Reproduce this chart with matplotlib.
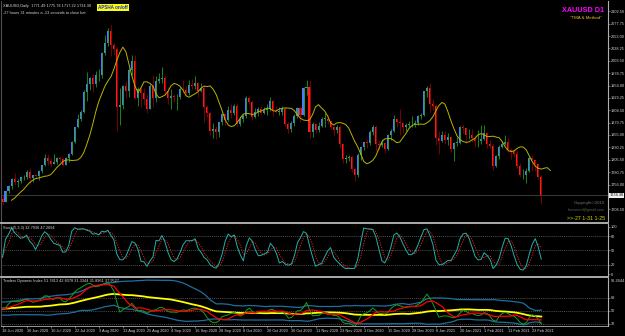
import numpy as np
import pandas as pd
import matplotlib
matplotlib.use("Agg")
import matplotlib.pyplot as plt
import matplotlib.transforms as mtrans
from matplotlib.lines import Line2D

plt.rcParams["font.family"] = ["Liberation Sans", "DejaVu Sans"]

# ---------------- data (XAUUSD daily, 18 Jun 2020 - 26 Feb 2021) ----------------
opens = [1727,1722,1743,1754,1768,1762,1764,1771,1772,
         1781,1769,1775,1774,1784,1795,1810,1803,1798,1802,1810,1807,1796,1810,1818,1842,1871,1887,1902,1942,1958,1970,1958,
         1975,1976,2019,2039,2063,2035,2028,1911,1915,1954,1944,1985,2003,1930,1947,1940,1928,1907,1954,1929,1964,
         1967,1970,1944,1930,1934,1931,1931,1947,1946,1940,1956,1954,1960,1944,1950,1912,1900,1863,1868,1861,1882,1898,
         1886,1905,1900,1913,1877,1887,1894,1930,1922,1891,1902,1908,1900,1905,1907,1924,1904,1902,1902,1907,1878,1868,
         1879,1894,1909,1896,1949,1951,1862,1877,1866,1873,1888,1888,1883,1872,1866,1871,1837,1807,1810,1811,1788,
         1776,1815,1831,1841,1839,1862,1871,1838,1836,1839,1828,1855,1864,1887,1881,1880,1871,1875,1877,1877,1880,1893,
         1895,1943,1950,1918,1913,1849,1844,1856,1845,1851,1828,1840,1840,1871,1870,1855,1856,1850,1843,1843,
         1847,1860,1837,1834,1794,1814,1831,1838,1842,1825,1824,1818,1794,1775,1775,1784,1809,1805,1797,1771.49]
highs = [1733,1744,1756,1769,1779,1768,1772,1775,1785,
         1789,1776,1777,1785,1796,1818,1818,1809,1817,1811,1813,1809,1811,1820,1843,1872,1898,1905,1945,1981,1972,1977,1984,
         1987,2021,2055,2070,2075,2040,2032,1950,1956,1963,1989,2015,2016,1951,1951,1950,1938,1958,1975,1974,1979,
         1992,1973,1951,1948,1938,1937,1952,1965,1953,1965,1967,1973,1962,1960,1953,1916,1903,1880,1874,1882,1900,1900,
         1913,1918,1917,1920,1894,1898,1933,1933,1925,1909,1912,1913,1912,1917,1931,1926,1914,1911,1913,1911,1881,1884,
         1898,1911,1912,1952,1966,1966,1881,1880,1881,1892,1900,1895,1883,1874,1875,1875,1840,1815,1816,1814,1790,
         1819,1832,1842,1848,1865,1875,1875,1846,1848,1842,1857,1867,1896,1890,1907,1882,1879,1884,1893,1886,1896,1900,
         1944,1953,1959,1927,1917,1864,1863,1863,1860,1854,1842,1852,1874,1876,1870,1867,1867,1856,1866,1875,
         1875,1862,1845,1837,1816,1835,1843,1855,1849,1829,1827,1826,1799,1788,1789,1813,1815,1806,1798,1775.78]
lows = [1716,1721,1739,1748,1756,1752,1759,1766,1767,
        1757,1762,1770,1765,1779,1793,1796,1793,1797,1797,1801,1793,1795,1801,1815,1840,1870,1883,1900,1924,1946,1942,1952,
        1963,1969,2015,2033,2014,2016,1863,1875,1908,1930,1932,1976,1928,1913,1911,1916,1900,1907,1911,1921,1960,
        1960,1936,1917,1907,1922,1906,1927,1940,1936,1936,1947,1948,1932,1941,1882,1891,1855,1849,1848,1851,1876,1876,
        1883,1889,1895,1873,1873,1882,1890,1918,1885,1889,1894,1895,1897,1896,1904,1894,1900,1895,1896,1873,1859,1861,
        1873,1889,1882,1894,1936,1849,1851,1859,1862,1871,1872,1877,1867,1856,1860,1829,1800,1800,1804,1781,1764,
        1772,1806,1825,1829,1835,1855,1823,1826,1832,1820,1826,1846,1862,1871,1855,1860,1864,1872,1872,1871,1876,1887,
        1893,1931,1901,1906,1836,1817,1841,1838,1835,1822,1803,1833,1838,1859,1837,1848,1842,1832,1831,1837,
        1845,1830,1829,1785,1791,1808,1829,1835,1822,1808,1812,1789,1771,1767,1760,1782,1784,1783,1767,1717.22]
closes = [1722,1743,1754,1768,1762,1764,1771,1772,1781,
          1769,1775,1774,1784,1795,1810,1803,1798,1802,1810,1807,1796,1810,1818,1842,1871,1887,1902,1942,1958,1970,1958,1975,
          1976,2019,2039,2063,2035,2028,1911,1915,1954,1944,1985,2003,1930,1947,1940,1928,1907,1954,1929,1964,1967,
          1970,1944,1930,1934,1931,1931,1947,1946,1940,1956,1954,1960,1944,1950,1912,1900,1863,1868,1861,1882,1898,1886,
          1905,1900,1913,1877,1887,1894,1930,1922,1891,1902,1908,1900,1905,1907,1924,1904,1902,1902,1907,1878,1868,1879,
          1894,1909,1896,1949,1951,1862,1877,1866,1873,1888,1888,1883,1872,1866,1871,1837,1807,1810,1811,1788,1776,
          1815,1831,1841,1839,1862,1871,1838,1836,1839,1828,1855,1864,1887,1881,1880,1871,1875,1877,1877,1880,1893,1895,
          1943,1950,1918,1913,1849,1844,1856,1845,1851,1828,1840,1840,1871,1870,1855,1856,1850,1843,1843,1847,
          1860,1837,1834,1794,1814,1831,1838,1842,1825,1824,1818,1794,1775,1775,1784,1809,1805,1797,1771,1734.38]
# closes before the visible window (indicator warm-up only)
warmup_closes = [1683,1694,1686,1714,1730,1727,1713,1707,1713,1686,1700,1702,1705,1685,1725,1702,1697,1701,
                 1716,1730,1743,1732,1745,1748,1725,1735,1729,1709,1709,1719,1730,1740,1727,1699,1714,1685,
                 1698,1715,1737,1728,1730,1726,1726,1727]
date_labels = ["18 Jun 2020","30 Jun 2020","10 Jul 2020","22 Jul 2020","3 Aug 2020","13 Aug 2020",
               "25 Aug 2020","4 Sep 2020","16 Sep 2020","28 Sep 2020","8 Oct 2020","20 Oct 2020",
               "30 Oct 2020","11 Nov 2020","23 Nov 2020","3 Dec 2020","15 Dec 2020","28 Dec 2020",
               "8 Jan 2021","20 Jan 2021","1 Feb 2021","11 Feb 2021","23 Feb 2021"]
price_ticks = [1706.50,1756.00,1780.75,1805.50,1830.25,1855.00,1879.75,1904.50,1929.25,
               1954.00,1978.75,2003.50,2028.25,2053.00,2077.75,2102.50]
last_price = 1734.38

# ---------------- indicators ----------------
o = np.array(opens, float); h = np.array(highs, float)
l = np.array(lows, float); c = np.array(closes, float)
n = len(c)
idx = np.arange(n)

median = pd.Series((h + l) / 2)
ma_line = median.rolling(5, min_periods=1).mean().values   # MA(5) of median price, shifted 3
ma_shift = 3

hh = pd.Series(h).rolling(5, min_periods=1).max()
ll = pd.Series(l).rolling(5, min_periods=1).min()
num = (pd.Series(c) - ll).rolling(3, min_periods=1).sum()
den = (hh - ll).rolling(3, min_periods=1).sum()
stoch_k = (100 * num / den).values
stoch_d = pd.Series(stoch_k).rolling(3, min_periods=1).mean().values

allc = pd.Series(warmup_closes + closes, dtype=float)
d = allc.diff().fillna(0)
up = d.clip(lower=0).ewm(alpha=1/13, adjust=False).mean()
dn = (-d.clip(upper=0)).ewm(alpha=1/13, adjust=False).mean()
rsi = 100 - 100 / (1 + up / dn.replace(0, 1e-9))
tdi_price = rsi.rolling(2, min_periods=1).mean()
tdi_signal = rsi.rolling(7, min_periods=1).mean()
tdi_base = rsi.rolling(34, min_periods=1).mean()
tdi_std = rsi.rolling(34, min_periods=1).std(ddof=0)
tdi_up = tdi_base + 1.6185 * tdi_std
tdi_dn = tdi_base - 1.6185 * tdi_std
sl = slice(len(warmup_closes), None)
tdi_price, tdi_signal, tdi_base = tdi_price[sl].values, tdi_signal[sl].values, tdi_base[sl].values
tdi_up, tdi_dn = tdi_up[sl].values, tdi_dn[sl].values

# ---------------- layout ----------------
W, H = 625, 336
fig = plt.figure(figsize=(W/100, H/100), dpi=100, facecolor="black")

def rect(x0, y0, x1, y1):
    return [x0/W, 1 - y1/H, (x1 - x0)/W, (y1 - y0)/H]

FS = 2.8
TXT = "#d8d8d8"
GRID = "#6a6a6a"
ax_m = fig.add_axes(rect(1, 1, 608, 222))
ax_s = fig.add_axes(rect(1, 224, 608, 276))
ax_t = fig.add_axes(rect(1, 278, 608, 326))
xl = ((1 - 2.5)/3.01, (608 - 2.5)/3.01)
for ax in (ax_m, ax_s, ax_t):
    ax.set_facecolor("black")
    ax.set_xlim(*xl)
    for s in ("top", "bottom"):
        ax.spines[s].set_visible(False)
    ax.spines["left"].set_color("#505050"); ax.spines["left"].set_linewidth(0.8)
    ax.spines["right"].set_color("#b0b0b0"); ax.spines["right"].set_linewidth(0.8)
    ax.yaxis.tick_right()
    ax.tick_params(axis="y", length=1.2, width=0.4, colors="#b0b0b0", labelsize=FS,
                   labelcolor=TXT, pad=0.6)
    ax.tick_params(axis="x", bottom=False, labelbottom=False)

# ---- main panel
ax_m.set_ylim(1681, 2123)
bull = c >= o
body_col = np.where(bull, "#4a7ff2", "#ff1a1a")
wick_col = np.where(bull, "#1f9a1f", "#8b0000")
ax_m.vlines(idx, l, h, colors=wick_col, linewidth=0.6)
body_h = np.where(np.abs(c - o) < 0.8, 0.8, np.abs(c - o))
ax_m.bar(idx, body_h, bottom=np.minimum(o, c), width=0.68, color=body_col, linewidth=0)
ax_m.plot(idx + ma_shift, ma_line, color="#b8b400", linewidth=0.7)
ax_m.axhline(last_price, color="#3a3a3a", linewidth=0.7, zorder=0)
ax_m.set_yticks(price_ticks)
ax_m.set_yticklabels([f"{v:.2f}" for v in price_ticks])
btr = mtrans.blended_transform_factory(ax_m.transAxes, ax_m.transData)
ax_m.text(1.002, last_price, f"{last_price:.2f}", transform=btr, fontsize=FS, color="black",
          va="center", ha="left",
          bbox=dict(boxstyle="square,pad=0.12", fc="#f0f0f0", ec="none"))

ax_m.text(0.004, 0.985, "XAUUSD,Daily  1771.49 1775.78 1717.22 1734.38", transform=ax_m.transAxes,
          fontsize=FS, color=TXT, va="top", ha="left")
ax_m.text(0.004, 0.955, "-27 hours 31 minutes a -13 seconds to close bar", transform=ax_m.transAxes,
          fontsize=FS, color=TXT, va="top", ha="left")
ax_m.text(0.160, 0.982, "APSHA on/off", transform=ax_m.transAxes, fontsize=3.3, color="#1030ff",
          weight="bold", va="top", ha="left",
          bbox=dict(boxstyle="square,pad=0.25", fc="#ffff00", ec="none"))
ax_m.text(0.993, 0.975, "XAUUSD D1", transform=ax_m.transAxes, fontsize=5.2, color="#ff00ff",
          weight="bold", va="top", ha="right")
ax_m.text(0.99, 0.93, "\"TMA & Method\"", transform=ax_m.transAxes, fontsize=3.2, color="#e0c020",
          va="top", ha="right")
ax_m.text(0.995, 0.075, "Copyright\u00a92016", transform=ax_m.transAxes, fontsize=3.2,
          color="#707070", va="bottom", ha="right")
ax_m.text(0.995, 0.045, "forexmmd@gmail.com", transform=ax_m.transAxes, fontsize=2.6,
          color="#606060", va="bottom", ha="right")
ax_m.text(0.995, 0.005, ">>-27 1-31 1-25", transform=ax_m.transAxes, fontsize=3.8,
          color="#d8d800", va="bottom", ha="right")

# ---- stochastic panel
ax_s.set_ylim(-4.2, 105.3)
for lv in (80, 50, 20):
    ax_s.axhline(lv, color=GRID, linewidth=0.5, linestyle=(0, (1.5, 1.5)))
ax_s.plot(idx, stoch_d, color="#ff2020", linewidth=0.6, linestyle=(0, (1.5, 1.5)))
ax_s.plot(idx, stoch_k, color="#20b2aa", linewidth=0.7)
ax_s.set_yticks([100, 80, 50, 20, 0])
ax_s.set_yticklabels(["100", "80", "50", "20", "0"])
ax_s.text(0.004, 0.97, "Stoch(5,3,3) 32.7936 47.2694", transform=ax_s.transAxes,
          fontsize=FS, color=TXT, va="top", ha="left")

# ---- TDI panel
ax_t.set_ylim(29.2, 95.7)
for lv in (68, 50, 32):
    ax_t.axhline(lv, color=GRID, linewidth=0.5, linestyle=(0, (1.5, 1.5)))
ax_t.plot(idx, tdi_up, color="#1d6f9f", linewidth=0.9)
ax_t.plot(idx, tdi_dn, color="#1d6f9f", linewidth=0.9)
ax_t.plot(idx, tdi_base, color="#ffff00", linewidth=1.3)
ax_t.plot(idx, tdi_price, color="#18a018", linewidth=0.7)
ax_t.plot(idx, tdi_signal, color="#ff0000", linewidth=0.9)
ax_t.set_yticks([68, 50, 32])
ax_t.set_yticklabels(["68", "50", "32"])
ax_t.text(1.004, 0.985, "96.2644", transform=ax_t.transAxes, fontsize=FS, color=TXT,
          va="top", ha="left")
ax_t.text(0.004, 0.97, "Traders Dynamic Index 51.7813 42.8378 31.3344 31.8961 37.9527",
          transform=ax_t.transAxes, fontsize=FS, color=TXT, va="top", ha="left")

# date axis
ax_t.set_xticks(np.arange(0, 8*len(date_labels), 8))
ax_t.set_xticklabels(date_labels, ha="left")
ax_t.tick_params(axis="x", bottom=True, labelbottom=True, length=1.5, width=0.4,
                 colors="#b0b0b0", labelcolor=TXT, labelsize=FS, pad=1)
ax_t.spines["bottom"].set_visible(True)
ax_t.spines["bottom"].set_color("#b0b0b0"); ax_t.spines["bottom"].set_linewidth(0.6)

# panel separators
for yy in (223, 277):
    fig.add_artist(Line2D([1/W, 608/W], [1 - yy/H, 1 - yy/H], color="#b8b8b8",
                          linewidth=1.3, transform=fig.transFigure))

fig.savefig("out.png", dpi=100, facecolor="black")
